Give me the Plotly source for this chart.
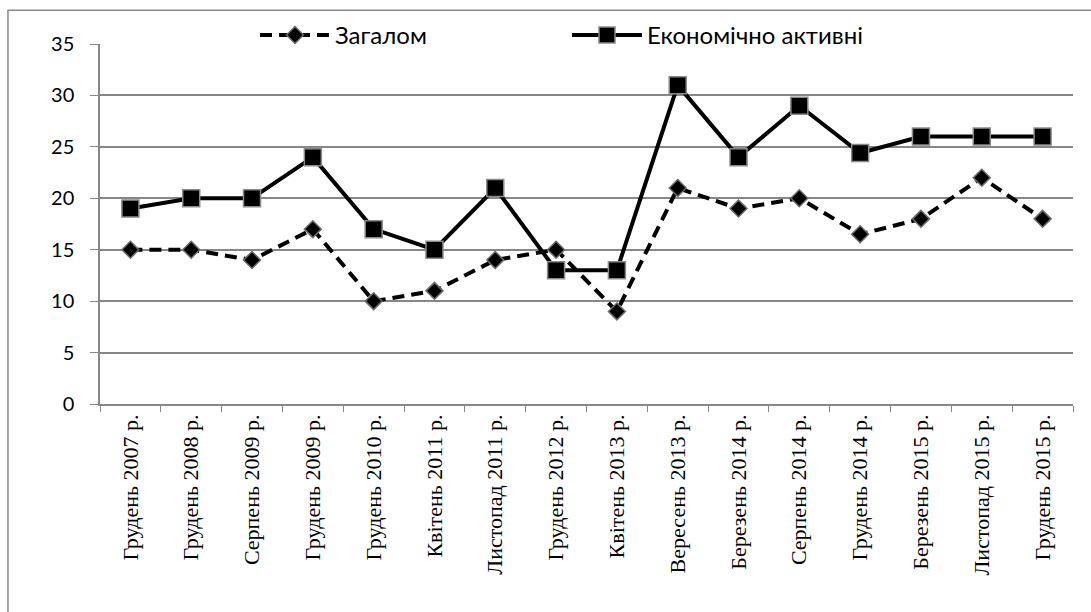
import plotly.graph_objects as go

categories = ["Грудень 2007 р.", "Грудень 2008 р.", "Серпень 2009 р.", "Грудень 2009 р.",
              "Грудень 2010 р.", "Квітень 2011 р.", "Листопад 2011 р.", "Грудень 2012 р.",
              "Квітень 2013 р.", "Вересень 2013 р.", "Березень 2014 р.", "Серпень 2014 р.",
              "Грудень 2014 р.", "Березень 2015 р.", "Листопад 2015 р.", "Грудень 2015 р."]
zagalom = [15, 15, 14, 17, 10, 11, 14, 15, 9, 21, 19, 20, 16.5, 18, 22, 18]
active = [19, 20, 20, 24, 17, 15, 21, 13, 13, 31, 24, 29, 24.4, 26, 26, 26]
y_ticks = [0, 5, 10, 15, 20, 25, 30, 35]

GRID = "#878787"

fig = go.Figure()
fig.add_trace(go.Scatter(
    x=categories, y=zagalom, name="Загалом", mode="lines+markers",
    line=dict(color="black", width=4, dash="12px,7px"),
    marker=dict(symbol="diamond", size=13, color="black",
                line=dict(color="#6b6b6b", width=1.5)),
))
fig.add_trace(go.Scatter(
    x=categories, y=active, name="Економічно активні", mode="lines+markers",
    line=dict(color="black", width=4),
    marker=dict(symbol="square", size=17, color="black",
                line=dict(color="#8a8a8a", width=1.5)),
))

fig.update_layout(
    width=1091, height=612,
    margin=dict(l=100, r=18, t=44, b=208, autoexpand=False),
    paper_bgcolor="white", plot_bgcolor="white",
    showlegend=True,
    legend=dict(orientation="h", x=0.1593, xanchor="left", y=1.024, yanchor="middle",
                font=dict(family="Lato", size=24, color="black"),
                bgcolor="rgba(0,0,0,0)", itemwidth=70,
                entrywidth=227, entrywidthmode="pixels", tracegroupgap=0),
    xaxis=dict(
        type="category", range=[-0.5, len(categories) - 0.5],
        tickson="boundaries", ticks="outside", ticklen=6, tickcolor=GRID,
        showline=True, linecolor=GRID, linewidth=1.5, showgrid=False,
        tickangle=-90, tickfont=dict(family="Liberation Serif", size=22, color="black"),
    ),
    yaxis=dict(
        range=[0, 35], tickvals=y_ticks, ticks="outside", ticklen=8, tickcolor=GRID,
        showline=True, linecolor=GRID, linewidth=1.5, ticklabelstandoff=12,
        showgrid=True, gridcolor=GRID, gridwidth=1.5, zeroline=False,
        tickfont=dict(family="Lato", size=20, color="black"),
    ),
    shapes=[dict(type="rect", xref="paper", yref="paper",
                 x0=-0.0946, x1=1.2, y0=-0.8, y1=1.094,
                 line=dict(color="#898989", width=1.5), layer="below")],
)

fig.write_html("out.html", config={"displayModeBar": False},
               post_script="document.body.style.margin='0';")
